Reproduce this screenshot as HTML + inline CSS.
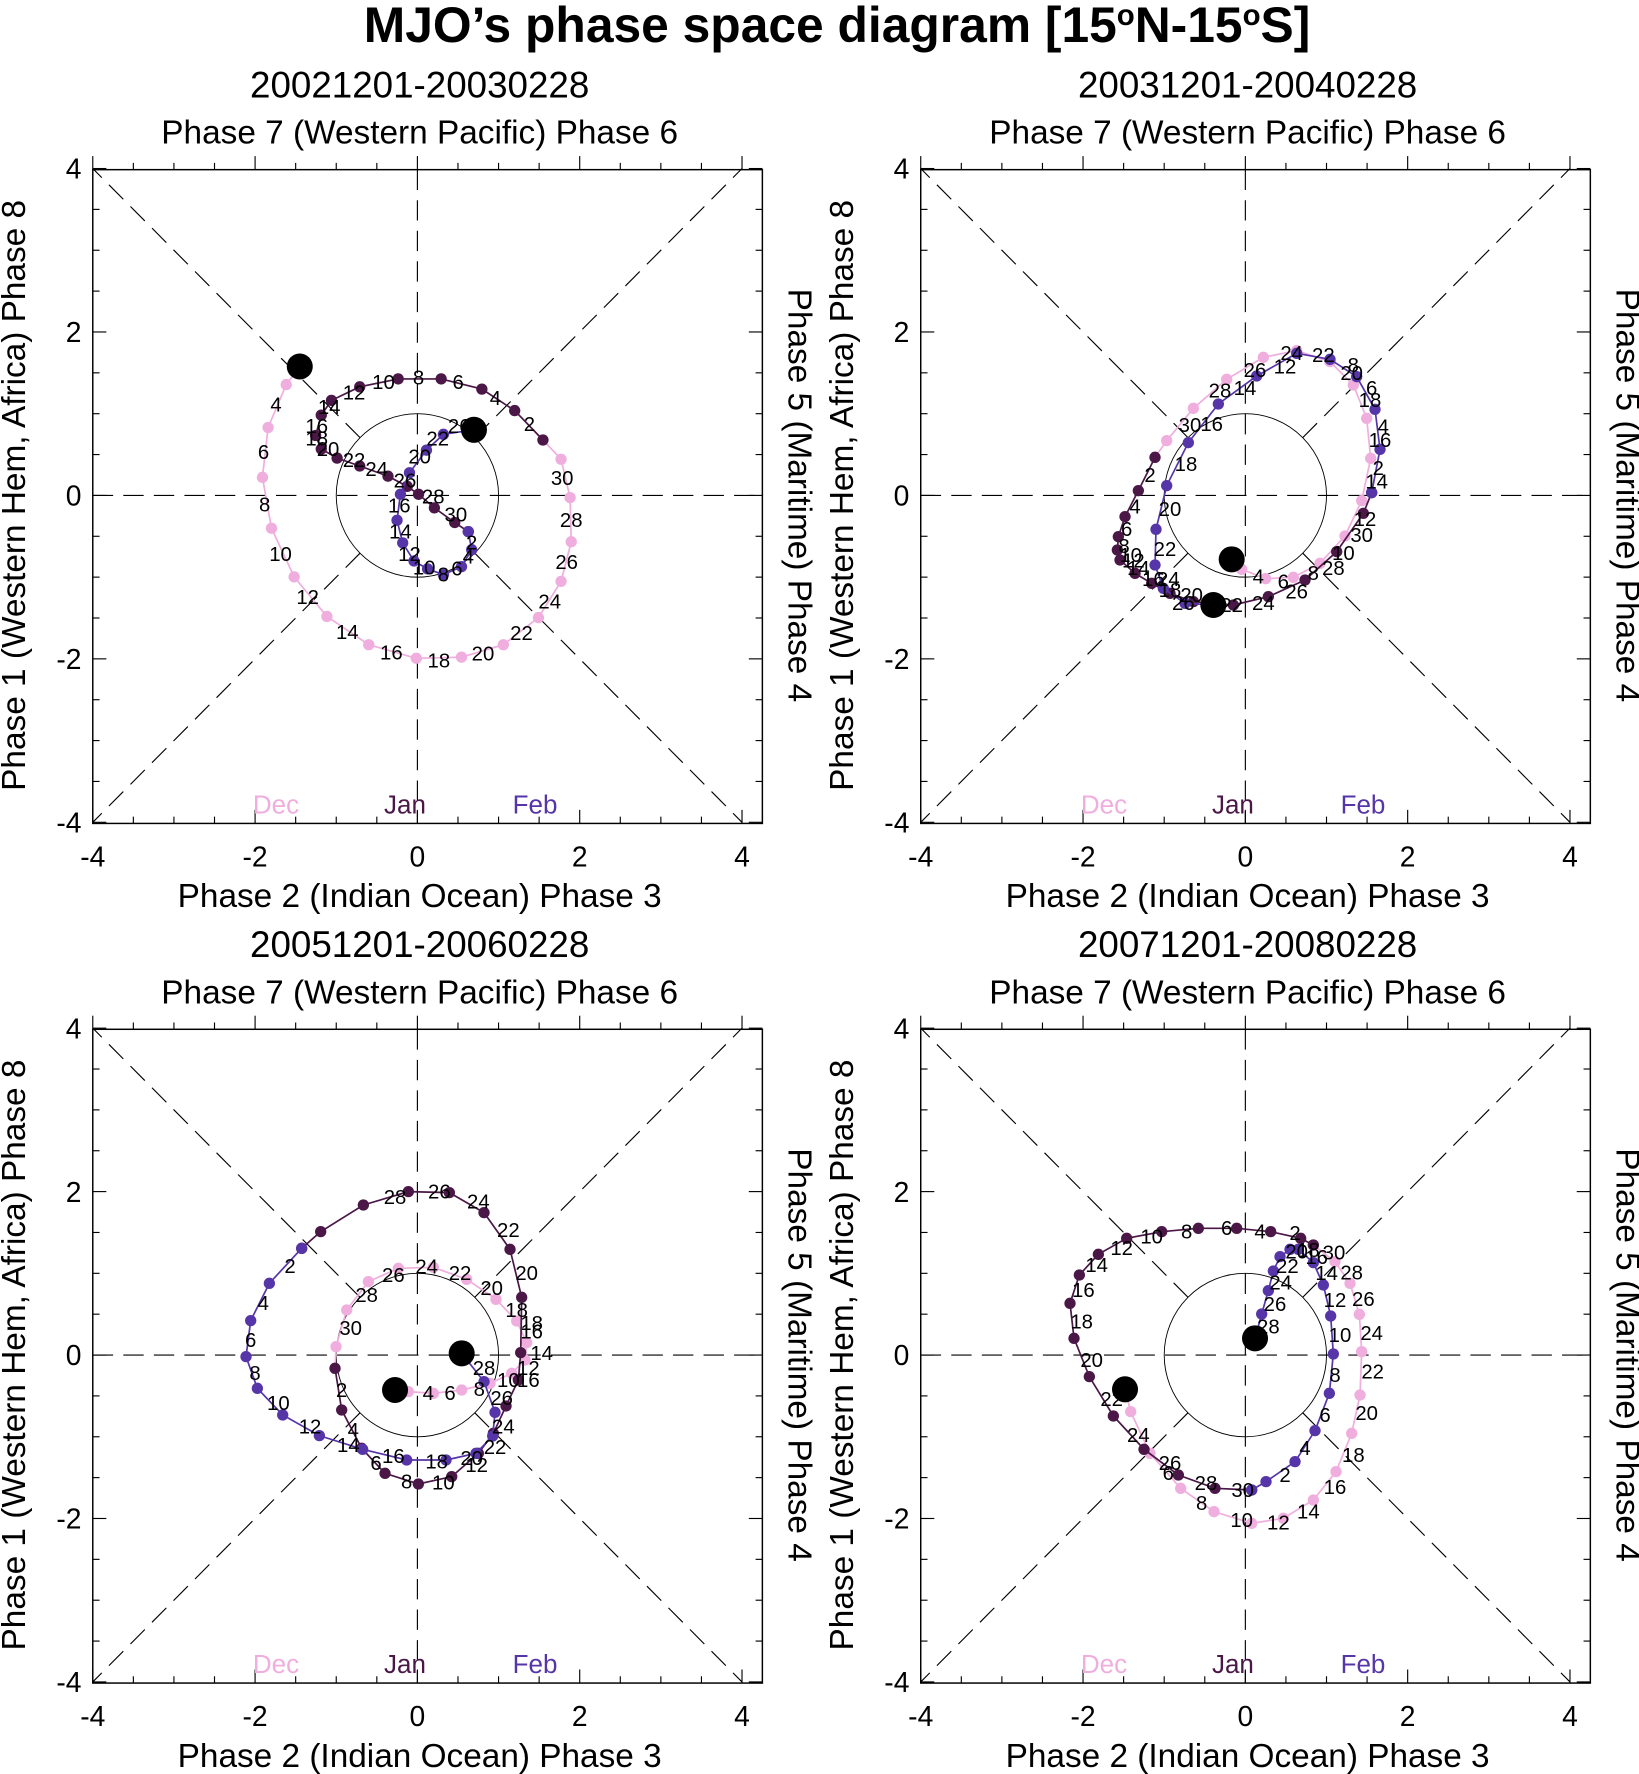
<!DOCTYPE html>
<html><head><meta charset="utf-8"><style>
html,body{margin:0;padding:0;background:#fff}
svg{display:block}
text{font-family:"Liberation Sans",sans-serif;fill:#000}
</style></head><body>
<svg id="s" xmlns="http://www.w3.org/2000/svg" width="1639" height="1774" viewBox="0 0 1449 1568.4"></svg>
<script>
const S=document.getElementById('s');
let h='';
const K=1.1311;
const PINK='#f0aede',DARK='#4a1747',BLUE='#5535a8';
h+='<text x="740" y="37" font-size="44" font-weight="bold" text-anchor="middle">MJO’s phase space diagram [15<tspan dy="-15" font-size="26">o</tspan><tspan dy="15">N-15</tspan><tspan dy="-15" font-size="26">o</tspan><tspan dy="15">S]</tspan></text>';
function panel(ox,oy,title){
  const cx=369+ox, cy=438+oy, ux=71.75, uy=72.25;
  const L=82+ox,R=674+ox,T=150+oy,B=728+oy;
  h+=`<text x="${cx+2}" y="${oy+86}" font-size="32.5" text-anchor="middle">${title}</text>`;
  h+=`<text x="${cx+2}" y="${oy+127}" font-size="29.5" text-anchor="middle">Phase 7 (Western Pacific) Phase 6</text>`;
  h+=`<text x="${cx+2}" y="${oy+802}" font-size="29.5" text-anchor="middle">Phase 2 (Indian Ocean) Phase 3</text>`;
  h+=`<text transform="translate(${ox+22},${cy}) rotate(-90)" font-size="29.5" text-anchor="middle">Phase 1 (Western Hem, Africa) Phase 8</text>`;
  h+=`<text transform="translate(${ox+697},${cy}) rotate(90)" font-size="29.5" text-anchor="middle">Phase 5 (Maritime) Phase 4</text>`;
  const dash='stroke="#000" stroke-width="1" stroke-dasharray="18,9" fill="none"';
  h+=`<line x1="${L}" y1="${cy}" x2="${R}" y2="${cy}" ${dash}/>`;
  h+=`<line x1="${cx}" y1="${T}" x2="${cx}" y2="${B}" ${dash}/>`;
  const d=Math.SQRT1_2;
  [[-1,-1],[1,-1],[-1,1],[1,1]].forEach(([sx,sy])=>{
    h+=`<line x1="${cx+sx*d*ux}" y1="${cy+sy*d*uy}" x2="${cx+sx*4*ux}" y2="${cy+sy*4*uy}" ${dash}/>`;
  });
  h+=`<ellipse cx="${cx}" cy="${cy}" rx="${ux}" ry="${uy}" fill="none" stroke="#000" stroke-width="0.8"/>`;
  h+=`<rect x="${L}" y="${T}" width="${R-L}" height="${B-T}" fill="none" stroke="#000" stroke-width="1.3"/>`;
  for(let v=-4;v<=4;v+=0.5){
    const maj=(v%2===0), len=maj?12:6;
    const x=cx+v*ux, y=cy-v*uy;
    h+=`<line x1="${x}" y1="${B}" x2="${x}" y2="${B-len}" stroke="#000"/>`;
    h+=`<line x1="${x}" y1="${T}" x2="${x}" y2="${T-len}" stroke="#000"/>`;
    h+=`<line x1="${L}" y1="${y}" x2="${L+len}" y2="${y}" stroke="#000"/>`;
    h+=`<line x1="${R}" y1="${y}" x2="${R-len}" y2="${y}" stroke="#000"/>`;
    if(maj){
      h+=`<text x="${x}" y="${B+38}" font-size="25" text-anchor="middle">${v}</text>`;
      h+=`<text x="${L-10}" y="${y+9}" font-size="25" text-anchor="end">${v}</text>`;
    }
  }
  h+=`<text x="${ox+244}" y="${oy+719}" font-size="23" text-anchor="middle" style="fill:${PINK}">Dec</text>`;
  h+=`<text x="${ox+358}" y="${oy+719}" font-size="23" text-anchor="middle" style="fill:${DARK}">Jan</text>`;
  h+=`<text x="${ox+473}" y="${oy+719}" font-size="23" text-anchor="middle" style="fill:${BLUE}">Feb</text>`;
}
function series(pts,col){
  h+=`<polyline points="${pts.map(p=>p.join(',')).join(' ')}" fill="none" stroke="${col}" stroke-width="1.5"/>`;
  pts.forEach(p=>{h+=`<circle cx="${p[0]}" cy="${p[1]}" r="5" fill="${col}"/>`;});
}
function big(p){h+=`<circle cx="${p[0]}" cy="${p[1]}" r="11.5" fill="#000"/>`;}
function labels(arr){arr.forEach(a=>{h+=`<text x="${a[0]}" y="${a[1]+6}" font-size="18" text-anchor="middle">${a[2]}</text>`;});}
function cz(ox,oy,arr){return arr.map(a=>{const r=[(ox+a[0]/3)/K,(oy+a[1]/3)/K];if(a.length>2)r.push(a[2]);return r;});}

panel(0,0,'20021201-20030228');
panel(732,0,'20031201-20040228');
panel(0,760,'20051201-20060228');
panel(732,760,'20071201-20080228');

series([[265,324],[253,340],[237,378],[232,422],[240,467],[260,510],[289,545],[326,570],[368,582],[408,581],[445,570],[476,546],[496,514],[505,479],[504,440],[496,406],[480,389]],PINK);
series([[480,389],[455,363],[426,344],[390,335],[352,335],[318,342],[293,354],[284,367],[279,385],[284,397],[298,405],[318,412],[343,421],[360,430],[370,437],[384,449],[402,462],[414,470]],DARK);
series([[414,470],[417,486],[408,501],[392,508],[378,503],[366,496],[356,480],[351,460],[354,437],[362,418],[377,398],[392,384],[419,380]],BLUE);
big([265,324]);big([419,380]);
labels([[244,358,4],[233,400,6],[234,446,8],[248,490,10],[272,528,12],[307,559,14],[346,577,16],[388,584,18],[427,578,20],[461,560,22],[486,532,24],[501,497,26],[505,460,28],[497,423,30],
[468,375,2],[438,352,4],[405,338,6],[370,334,8],[339,338,10],[313,347,12],[291,360,14],[280,377,16],[280,388,18],[290,397,20],[313,407,22],[333,415,24],[358,425,26],[383,439,28],[403,455,30],
[417,480,2],[414,492,4],[404,503,6],[392,508,8],[375,502,10],[362,490,12],[354,470,14],[353,447,16],[371,404,20],[387,388,22],[406,377,26]]);

const p2=(a)=>cz(1100,320,a);
series(p2([[395,718],[425,748],[497,776],[580,772],[660,730],[735,648],[785,542],[812,415],[800,295],[760,195],[690,125],[590,92],[490,112],[380,178],[280,265],[200,362],[165,412]]),PINK);
series(p2([[165,412],[115,512],[75,590],[55,650],[52,690],[60,720],[105,760],[155,790],[210,820],[280,845],[400,855],[505,830],[615,780],[710,695],[790,580],[815,518]]),DARK);
series(p2([[815,518],[840,388],[825,268],[770,170],[690,118],[590,100],[470,168],[355,252],[265,368],[200,497],[168,628],[165,735],[190,805],[255,850],[340,855]]),BLUE);
big(p2([[395,718]])[0]);big(p2([[340,855]])[0]);
labels(p2([[475,770,4],[550,785,6],[640,760,8],[730,700,10],[795,598,12],[785,645,30],[700,745,28],[590,815,26],[490,850,24],[395,855,22],[830,485,14],[835,445,2],[840,360,16],[850,320,4],[810,240,18],[815,205,6],[755,160,20],[760,135,8],[670,105,22],[575,100,24],[555,140,12],[465,150,26],[435,205,14],[360,212,28],[335,312,16],[270,315,30],[258,432,18],[150,465,2],[210,568,20],[105,560,4],[80,628,6],[195,688,22],[72,678,8],[92,705,10],[100,722,12],[115,745,14],[160,778,16],[205,778,24],[210,810,18],[250,850,26],[275,825,20]]));

const p3=(a)=>cz(230,1160,a);
series(p3([[495,690],[535,695],[610,700],[695,690],[780,670],[845,640],[885,600],[890,548],[860,483],[798,418],[710,358],[610,322],[505,325],[415,365],[350,450],[318,560],[315,625]]),PINK);
series(p3([[315,625],[335,750],[395,865],[465,940],[565,972],[665,950],[745,880],[790,820],[828,738],[865,660],[872,578],[875,412],[840,268],[762,158],[658,98],[535,95],[400,135],[272,215],[215,265]]),DARK);
series(p3([[215,265],[118,370],[62,482],[48,590],[82,685],[158,765],[268,827],[398,868],[530,900],[648,900],[738,880],[788,828],[795,757],[762,665],[695,580]]),BLUE);
big(p3([[495,690]])[0]);big(p3([[695,580]])[0]);
labels(p3([[180,318,2],[100,430,4],[62,540,6],[75,640,8],[145,730,10],[240,800,12],[355,855,14],[490,888,16],[620,905,18],[725,895,20],[795,862,22],[820,800,24],[815,715,26],[762,625,28],
[495,112,28],[628,95,26],[745,125,24],[835,210,22],[890,340,20],[860,450,18],[905,515,16],[935,580,14],[895,625,12],[835,660,10],[335,690,2],[370,810,4],[438,910,6],[530,965,8],[640,968,10],[740,915,12],
[595,700,4],[660,700,6],[748,688,8],[905,490,18],[895,660,16],[785,385,20],[690,340,22],[590,320,24],[490,345,26],[410,405,28],[362,505,30]]));

const p4=(a)=>cz(1050,1200,a);
series(p4([[225,568],[242,635],[300,760],[392,865],[492,935],[605,970],[700,955],[790,900],[858,815],[905,700],[930,585],[935,455],[928,343],[900,250],[855,185],[790,135]]),PINK);
series(p4([[790,135],[752,115],[662,95],[560,85],[445,85],[335,95],[230,115],[145,163],[88,225],[60,310],[72,415],[118,530],[190,648],[282,748],[385,825],[495,865],[605,870]]),DARK);
series(p4([[605,870],[648,845],[735,785],[795,692],[838,580],[850,462],[842,348],[820,255],[790,188],[745,148],[720,148],[690,170],[670,213],[655,272],[635,342],[615,415]]),BLUE);
big(p4([[225,568]])[0]);big(p4([[615,415]])[0]);
labels(p4([[735,100,2],[630,95,4],[530,85,6],[410,95,8],[305,110,10],[215,145,12],[140,195,14],[100,270,16],[95,365,18],[125,480,20],[185,598,22],[265,705,24],[360,790,26],[468,850,28],[578,870,30],
[705,825,2],[765,745,4],[825,645,6],[855,525,8],[870,405,10],[855,300,12],[830,220,14],[800,172,16],[775,150,18],[740,155,20],[712,198,22],[692,248,24],[675,312,26],[655,380,28],
[852,158,30],[905,218,28],[940,298,26],[965,400,24],[968,515,22],[950,640,20],[910,765,18],[855,862,16],[775,935,14],[685,968,12],[575,960,10],[455,910,8],[355,820,6]]));

S.innerHTML=h;
</script>
</body></html>
